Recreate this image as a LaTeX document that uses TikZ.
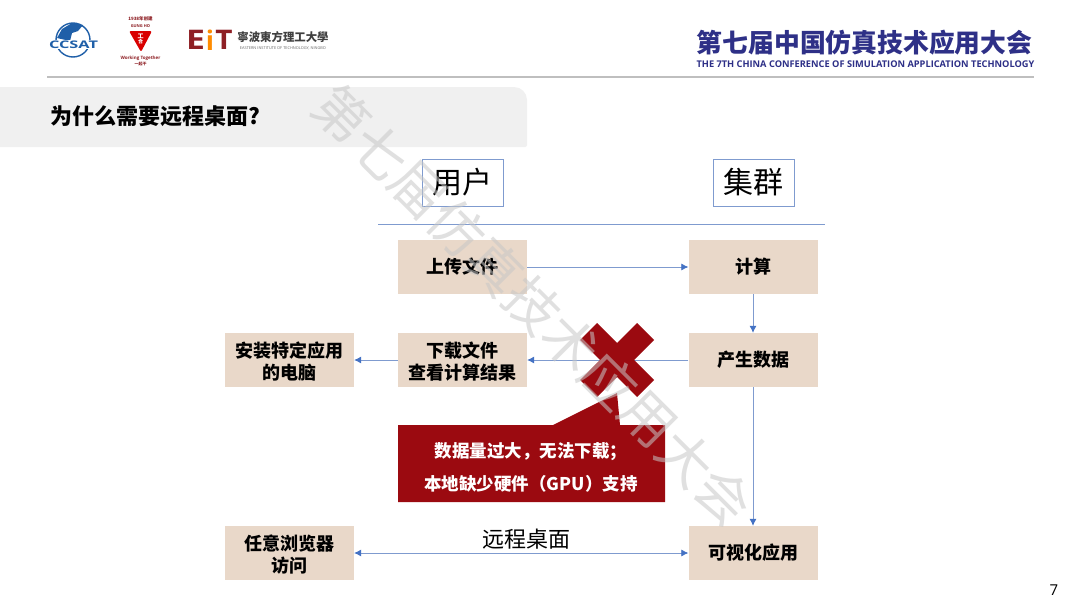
\documentclass[tikz,border=0pt]{standalone}
\usepackage{fontspec}
\setmainfont{Open Sans}
\newfontfamily\cjk{Noto Sans CJK SC}
\newfontfamily\cjktc{Noto Sans CJK TC}
\usetikzlibrary{arrows.meta}
\newcommand{\liftline}{\rule{0pt}{19pt}}
\definecolor{boxfill}{HTML}{E9D8C9}
\definecolor{wine}{HTML}{9B0A10}
\definecolor{linkblue}{HTML}{4472C4}
\definecolor{headblue}{HTML}{7F9BCF}
\definecolor{navy}{HTML}{2E3087}
\definecolor{eitred}{HTML}{8E1F24}
\definecolor{ccblue}{HTML}{1F5FA8}
\tikzset{
 >={Latex[length=7pt,width=7pt,color=linkblue]},
 stepbox/.style={fill=boxfill,minimum width=129pt,minimum height=54pt,inner sep=0pt,align=center,text=black,font=\fontsize{18}{22}\selectfont\cjk\bfseries},
 headbox/.style={draw=headblue,line width=0.7pt,fill=white,minimum width=81pt,minimum height=47pt,inner sep=0pt,font=\fontsize{30}{30}\selectfont\cjk},
 link/.style={draw=headblue,line width=0.7pt},
 wm/.style={text=black!22,opacity=0.55,inner sep=0pt,rotate=-45,font=\fontsize{54}{54}\selectfont\cjk},
 why/.style={inner sep=0pt,text=white,font=\fontsize{17.5}{17.5}\selectfont\cjk\bfseries},
 logo/.style={inner sep=0pt,text=eitred},
}
\begin{document}
\begin{tikzpicture}[x=1pt,y=-1pt]
\useasboundingbox (0,0) rectangle (1080,608);
\fill[white] (0,0) rectangle (1080,608);
% CCSAT logo
\draw[ccblue,line width=1.4pt] (73,40) circle[radius=17];
\fill[ccblue] (57,38) -- (62,29) -- (72,23) -- (83,25) -- (78,31) -- (72,33) -- (70,41) -- cycle;
\node[fill=white,inner xsep=0pt,inner ysep=0.5pt,xscale=1.55,text=ccblue,font=\fontsize{10.5}{10.5}\selectfont\bfseries] (ccsat) at (73.5,44.5) {CCSAT};
% Gung Ho logo
\node[logo,font=\fontsize{4.5}{5}\selectfont\cjk\bfseries] (yr) at (140.5,19) {1938年创建};
\node[logo,font=\fontsize{4}{5}\selectfont\bfseries] (gh) at (140.5,26) {GUNG HO};
\fill[red!85!black,rounded corners=2pt] (129,31) -- (152,31) -- (141,52) -- cycle;
\node[inner sep=0pt,text=white,font=\fontsize{6}{6}\selectfont\cjk\bfseries] (gong) at (140.5,36) {工};
\node[inner sep=0pt,text=white,font=\fontsize{5}{5}\selectfont\cjk\bfseries] (he) at (140.5,42) {合};
\node[logo,font=\fontsize{4.5}{5}\selectfont\bfseries] (wt) at (140.5,58) {Working Together};
\node[logo,font=\fontsize{4}{5}\selectfont\cjk\bfseries] (yq) at (140.5,64) {一起干};
% EIT logo
\node[logo,xscale=1.25,font=\fontsize{27}{27}\selectfont\bfseries] (eE) at (195.5,40) {E};
\node[inner sep=0pt,text=orange!90!yellow,font=\fontsize{27}{27}\selectfont\bfseries] (eI) at (210,40) {i};
\node[logo,xscale=1.1,font=\fontsize{27}{27}\selectfont\bfseries] (eT) at (224,40) {T};
\node[inner sep=0pt,text=black!75,font=\fontsize{11.4}{11.4}\selectfont\cjktc\bfseries] (nb) at (283,37) {寧波東方理工大學};
\node[inner sep=0pt,text=black!60,font=\fontsize{3.9}{4}\selectfont] (nben) at (283,48.5) {EASTERN INSTITUTE OF TECHNOLOGY, NINGBO};
% conference title
\node[inner sep=0pt,text=navy,font=\fontsize{25.8}{25.8}\selectfont\cjk\bfseries] (conf) at (864.5,43) {第七届中国仿真技术应用大会};
\node[inner sep=0pt,text=navy,font=\fontsize{9.25}{9.5}\selectfont\bfseries] (confen) at (865.5,64) {THE 7TH CHINA CONFERENCE OF SIMULATION APPLICATION TECHNOLOGY};
\coordinate (ruleL) at (47,77); \coordinate (ruleR) at (1034,77);
\draw[black!25,line width=1.2pt] (ruleL) -- (ruleR);
% title band
\fill[black!6] (0,147) -- (0,87) [rounded corners=13pt] -- (527,87) [rounded corners=2pt] -- (527,147) [sharp corners] -- cycle;
\node[anchor=west,inner sep=0pt,font=\fontsize{22}{22}\selectfont\cjk\bfseries] (title) at (50,116) {为什么需要远程桌面?};
% columns
\node[headbox] (user) at (462.5,182.5) {用户};
\node[headbox] (cluster) at (753.5,182.5) {集群};
\coordinate (sepL) at (378,224); \coordinate (sepR) at (825,224);
\draw[headblue,line width=0.7pt] (sepL) -- (sepR);
% boxes
\node[stepbox] (upload) at (462.5,267) {上传文件};
\node[stepbox] (compute) at (753,267) {计算};
\node[stepbox] (install) at (289.5,360) {\liftline 安装特定应用\\的电脑};
\node[stepbox] (download) at (462.5,360) {\liftline 下载文件\\查看计算结果};
\node[stepbox] (produce) at (753,360) {产生数据};
\node[stepbox] (browser) at (289.5,553) {\liftline 任意浏览器\\访问};
\node[stepbox] (vis) at (753,553) {可视化应用};
% connectors
\draw[link,->] (upload) -- (compute);
\draw[link,->] (compute) -- (produce);
\draw[link,->] (produce) -- (download);
\draw[link,->] (download) -- (install);
\draw[link,->] (produce) -- (vis);
\draw[link,<->] (browser) -- (vis);
\node[inner sep=0pt,font=\fontsize{22}{22}\selectfont\cjk] (remote) at (526,539) {远程桌面};
% cross and callout
\fill[wine] (597,323) -- (617,343) -- (637,323) -- (654,340) -- (634,360) -- (654,380) -- (637,397) -- (617,377) -- (597,397) -- (580,380) -- (600,360) -- (580,340) -- cycle;
\fill[wine] (398,425) -- (553,425) -- (617,393) -- (620,425) -- (665,425) -- (665,502) -- (398,502) -- cycle;
\node[why] (why1) at (531,452) {数据量过大^^^^ff0c无法下载^^^^ff1b};
\node[why] (why2) at (531,484) {本地缺少硬件^^^^ff08GPU^^^^ff09支持};
% watermark
\foreach \ch [count=\i from 0] in {第,七,届,仿,真,技,术,应,用,大,会}
  \node[wm] (wm\i) at ({342+38.2*\i},{114+38.2*\i}) {\ch};
% page number
\node[inner sep=0pt,font=\fontsize{15}{15}\selectfont] (page) at (1054,590) {7};
\end{tikzpicture}
\end{document}
